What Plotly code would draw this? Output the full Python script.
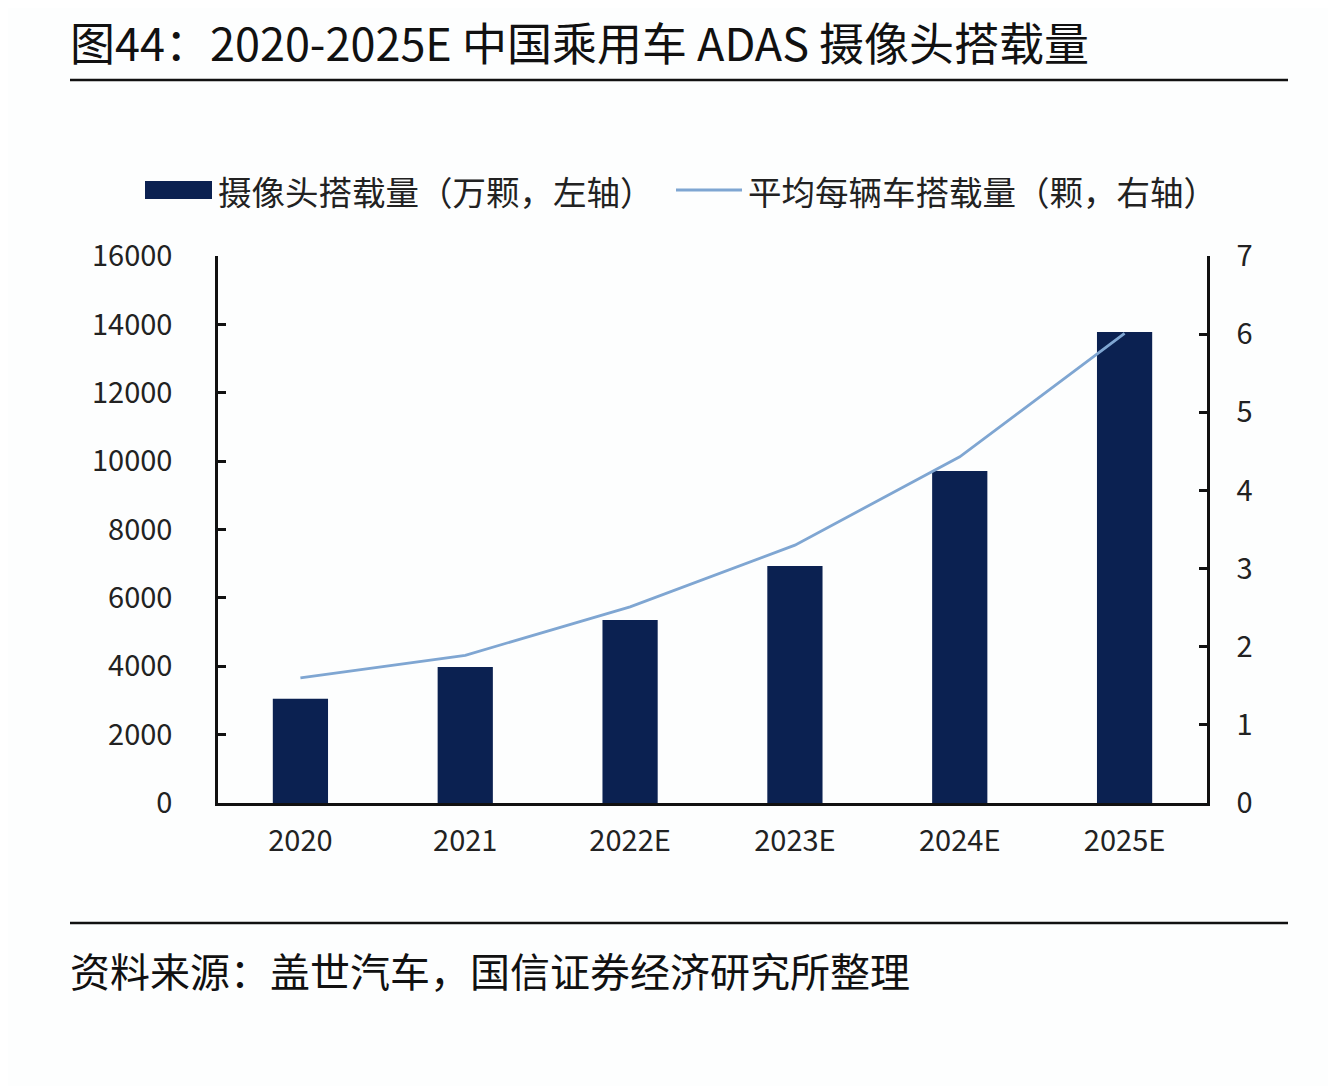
import plotly.graph_objects as go

categories = ["2020", "2021", "2022E", "2023E", "2024E", "2025E"]
camera_volume = [3050, 3980, 5350, 6930, 9710, 13780]   # 万颗, left axis
avg_per_vehicle = [1.60, 1.89, 2.51, 3.30, 4.43, 6.01]   # 颗, right axis
left_ticks = [0, 2000, 4000, 6000, 8000, 10000, 12000, 14000, 16000]
right_ticks = [0, 1, 2, 3, 4, 5, 6, 7]

OFF = 8  # page body margin
W, H = 1336, 1086
L, R, T, B = 218, 1207, 256, 803  # plot area in screenshot coordinates
pw, ph = R - L, B - T

def px(x):
    return (x - L) / pw

def py(y):
    return (B - y) / ph

FONT = "Noto Sans CJK SC, Noto Sans, sans-serif"
NAVY = "#0B2151"
LINE = "#7FA6D2"
NAME_BAR = "摄像头搭载量（万颗，左轴）"
NAME_LINE = "平均每辆车搭载量（颗，右轴）"

fig = go.Figure()
fig.add_trace(go.Bar(
    x=categories, y=camera_volume, name=NAME_BAR,
    marker=dict(color=NAVY, line=dict(width=0)), yaxis="y", showlegend=False,
))
fig.add_trace(go.Scatter(
    x=categories, y=avg_per_vehicle, name=NAME_LINE,
    mode="lines", line=dict(color=LINE, width=2.8), yaxis="y2", showlegend=False,
))

fig.update_layout(
    width=W, height=H,
    margin=dict(l=L - OFF, r=W - R + OFF, t=T - OFF, b=H - B + OFF),
    paper_bgcolor="#FDFEFE", plot_bgcolor="#FDFEFE",
    font=dict(family=FONT, color="#222222"),
    bargap=0.665,
    xaxis=dict(
        showline=True, linecolor="#111111", linewidth=2.5, mirror=False,
        ticks="", showgrid=False, zeroline=False,
        tickfont=dict(size=29, color="#222222"), ticklabelstandoff=10,
    ),
    yaxis=dict(
        range=[0, 16000], tickvals=left_ticks,
        ticktext=[str(v) for v in left_ticks],
        showline=True, linecolor="#111111", linewidth=2.5,
        ticks="inside", ticklen=8, tickwidth=2.5, tickcolor="#111111",
        showgrid=False, zeroline=False,
        tickfont=dict(size=29, color="#222222"), ticklabelstandoff=37,
    ),
    yaxis2=dict(
        range=[0, 7], tickvals=right_ticks, overlaying="y", side="right",
        showline=True, linecolor="#111111", linewidth=2.5,
        ticks="inside", ticklen=8, tickwidth=2.5, tickcolor="#111111",
        showgrid=False, zeroline=False,
        tickfont=dict(size=29, color="#222222"), ticklabelstandoff=21,
    ),
    shapes=[
        dict(type="line", xref="paper", yref="paper", x0=px(70), x1=px(1288),
             y0=py(80), y1=py(80), line=dict(color="#111111", width=2.5)),
        dict(type="line", xref="paper", yref="paper", x0=px(70), x1=px(1288),
             y0=py(923), y1=py(923), line=dict(color="#111111", width=2.5)),
        # legend keys
        dict(type="rect", xref="paper", yref="paper", x0=px(145), x1=px(212),
             y0=py(199), y1=py(181), fillcolor=NAVY, line=dict(width=0)),
        dict(type="line", xref="paper", yref="paper", x0=px(676), x1=px(742),
             y0=py(190), y1=py(190), line=dict(color=LINE, width=2.8)),
    ],
    annotations=[
        dict(text="图44：2020-2025E 中国乘用车 ADAS 摄像头搭载量", xref="paper", yref="paper",
             x=px(68), y=py(42), xanchor="left", yanchor="middle", showarrow=False,
             font=dict(size=45, color="#111111", family=FONT)),
        dict(text=NAME_BAR, xref="paper", yref="paper",
             x=px(216), y=py(190), xanchor="left", yanchor="middle", showarrow=False,
             font=dict(size=33.5, color="#222222", family=FONT)),
        dict(text=NAME_LINE, xref="paper", yref="paper",
             x=px(746), y=py(190), xanchor="left", yanchor="middle", showarrow=False,
             font=dict(size=33.5, color="#222222", family=FONT)),
        dict(text="资料来源：盖世汽车，国信证券经济研究所整理", xref="paper", yref="paper",
             x=px(68), y=py(970), xanchor="left", yanchor="middle", showarrow=False,
             font=dict(size=40, color="#111111", family=FONT)),
    ],
)

fig.write_html("out.html")
